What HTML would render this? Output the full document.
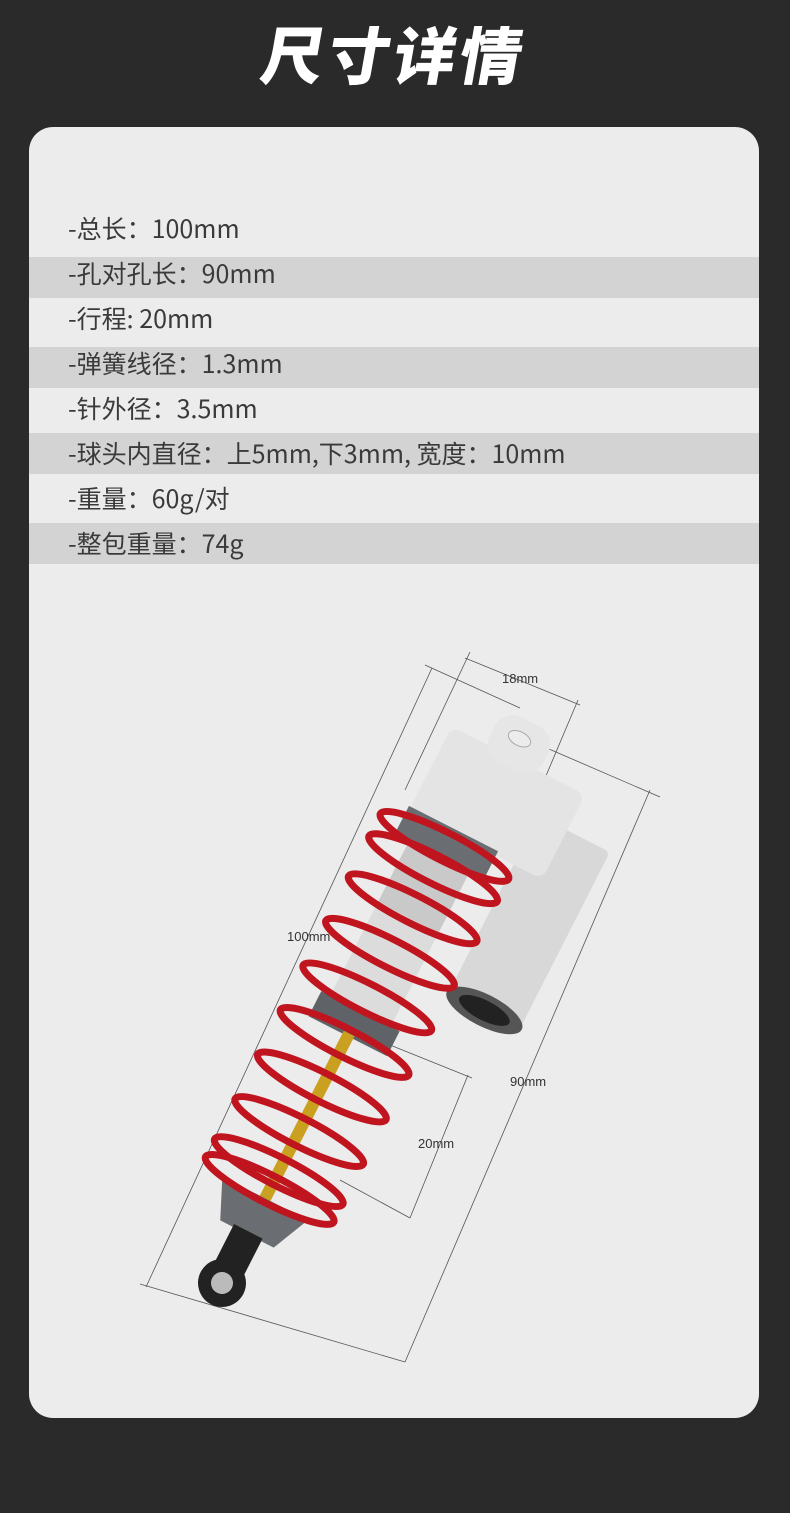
<!DOCTYPE html>
<html><head><meta charset="utf-8"><style>
*{margin:0;padding:0;box-sizing:border-box}
body{width:790px;height:1513px;background:#2b2a2b;position:relative;overflow:hidden;font-family:"Liberation Sans","Noto Sans CJK SC",sans-serif}
.title{position:absolute;left:0;width:790px;top:12px;text-align:center;color:#fff;font-size:62px;font-weight:900;letter-spacing:4px;font-family:"Noto Sans CJK SC",sans-serif;transform:skewX(-10deg);line-height:80px}
.card{position:absolute;left:29px;top:127px;width:730px;height:1291px;background:#ececec;border-radius:24px;overflow:hidden}
.stripe{position:absolute;left:0;width:730px;height:41px;background:#d3d3d3}
.t{position:absolute;left:39px;font-size:25px;color:#3a3a3a;line-height:30px;font-family:"Noto Sans CJK SC",sans-serif;font-weight:400;white-space:nowrap}
svg{position:absolute;left:0;top:0}
</style></head><body>
<div class="title">尺寸详情</div>
<div class="card">
<div class="stripe" style="top:130px"></div>
<div class="stripe" style="top:220px"></div>
<div class="stripe" style="top:306px"></div>
<div class="stripe" style="top:396px"></div>
<div class="t" style="top:86px">-总长：100mm</div>
<div class="t" style="top:131px">-孔对孔长：90mm</div>
<div class="t" style="top:176px">-行程: 20mm</div>
<div class="t" style="top:221px">-弹簧线径：1.3mm</div>
<div class="t" style="top:266px">-针外径：3.5mm</div>
<div class="t" style="top:311px">-球头内直径：上5mm,下3mm, 宽度：10mm</div>
<div class="t" style="top:356px">-重量：60g/对</div>
<div class="t" style="top:401px">-整包重量：74g</div>
</div>
<svg width="790" height="1513" viewBox="0 0 790 1513">
<g stroke="#555" stroke-width="0.8" fill="none">
<line x1="432" y1="668" x2="146" y2="1287"/>
<line x1="425" y1="665" x2="520" y2="708"/>
<line x1="140" y1="1284" x2="405" y2="1362"/>
<line x1="470" y1="652" x2="405" y2="790"/>
<line x1="465" y1="658" x2="580" y2="705"/>
<line x1="578" y1="700" x2="540" y2="790"/>
<line x1="505" y1="730" x2="660" y2="797"/>
<line x1="650" y1="790" x2="405" y2="1362"/>
<line x1="390" y1="1045" x2="472" y2="1078"/>
<line x1="468" y1="1075" x2="410" y2="1218"/>
<line x1="340" y1="1180" x2="410" y2="1218"/>
</g>
<g font-family="Liberation Sans,sans-serif" font-size="13" fill="#333">
<text x="502" y="683">18mm</text>
<text x="287" y="941">100mm</text>
<text x="510" y="1086">90mm</text>
<text x="418" y="1148">20mm</text>
</g>
<g transform="translate(222,1283) rotate(27)">
<rect x="70" y="-560" width="80" height="200" rx="6" fill="#d8d8d8"/>
<ellipse cx="110" cy="-362" rx="42" ry="16" fill="#555"/>
<ellipse cx="110" cy="-362" rx="28" ry="10" fill="#222"/>
<rect x="-48" y="-600" width="150" height="95" rx="10" fill="#e4e4e4"/>
<rect x="-10" y="-640" width="60" height="50" rx="20" fill="#e6e6e6"/>
<ellipse cx="18" cy="-620" rx="12" ry="7" fill="#ececec" stroke="#aaa"/>
<rect x="-50" y="-510" width="100" height="30" fill="#6a6e72"/>
<rect x="-34" y="-480" width="68" height="70" fill="#c9c9c9"/>
<rect x="-34" y="-410" width="68" height="110" fill="#dcdcdc"/>
<rect x="-44" y="-305" width="88" height="28" fill="#5f6367"/>
<rect x="-6" y="-280" width="12" height="190" fill="#c9a020"/>
<path d="M-48,-95 L48,-95 L30,-55 L-30,-55 Z" fill="#6a6e72"/>
<rect x="-16" y="-58" width="32" height="40" fill="#222"/>
<circle cx="0" cy="0" r="24" fill="#222"/>
<circle cx="0" cy="0" r="11" fill="#bbb"/>
<g fill="none" stroke="#c0141e" stroke-width="7">
<ellipse cx="0" cy="-105" rx="72" ry="14"/>
<ellipse cx="0" cy="-125" rx="72" ry="14"/>
<ellipse cx="0" cy="-170" rx="72" ry="14"/>
<ellipse cx="0" cy="-220" rx="72" ry="14"/>
<ellipse cx="0" cy="-270" rx="72" ry="14"/>
<ellipse cx="0" cy="-320" rx="72" ry="14"/>
<ellipse cx="0" cy="-370" rx="72" ry="14"/>
<ellipse cx="0" cy="-420" rx="72" ry="14"/>
<ellipse cx="0" cy="-465" rx="72" ry="14"/>
<ellipse cx="0" cy="-490" rx="72" ry="14"/>
</g>
</g>
</svg>
</body></html>
